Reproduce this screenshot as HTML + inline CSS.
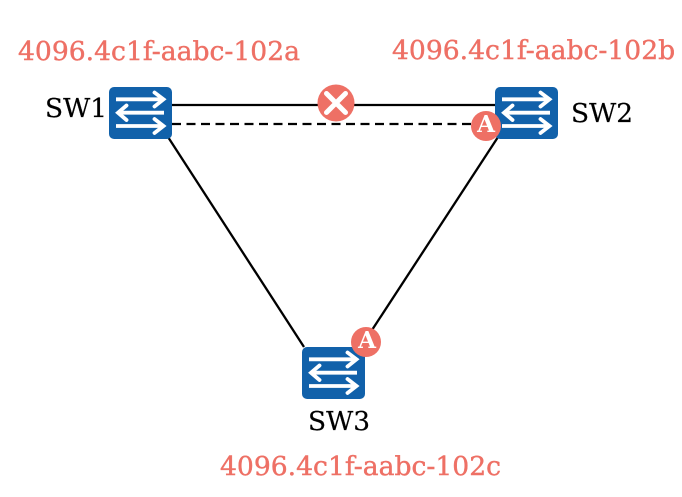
<!DOCTYPE html>
<html>
<head>
<meta charset="utf-8">
<style>
html,body{margin:0;padding:0;background:#fff;width:682px;height:497px;overflow:hidden}
svg{display:block;position:absolute;left:0;top:0}
div{position:absolute;font-family:"DejaVu Serif",serif;line-height:30px;height:30px;white-space:nowrap}
.t{font-size:26.6px;color:#ee7065;-webkit-text-stroke:0.4px #ee7065}
.l{font-size:26.4px;color:#000;-webkit-text-stroke:0.2px #000}
.a{font-size:23px;font-weight:bold;color:#fff;width:30px;text-align:center}
</style>
</head>
<body>
<svg width="682" height="497" viewBox="0 0 682 497" xmlns="http://www.w3.org/2000/svg">
<defs>
<g id="sw">
<rect x="0" y="0" width="63" height="52" rx="5" fill="#1161aa"/>
<g fill="none" stroke="#fff" stroke-width="3.800">
<path d="M7 12.300H54"/>
<path d="M45.500 5.500L54.500 12.300L45.500 19.500" stroke-linecap="round"/>
<path d="M55 25.700H10"/>
<path d="M17.500 18.500L9 25.700L17.500 33" stroke-linecap="round"/>
<path d="M7 39H54"/>
<path d="M45.500 32L54.500 39L45.500 46" stroke-linecap="round"/>
</g>
</g>
</defs>
<g stroke="#000" stroke-width="2.300" fill="none">
<path d="M172 105H495"/>
<path d="M172 124H476" stroke-dasharray="9 5.500"/>
<path d="M168 137L304 347"/>
<path d="M500 134L372 330"/>
</g>
<use href="#sw" x="109" y="87"/>
<use href="#sw" x="495" y="87"/>
<use href="#sw" x="302" y="347"/>
<circle cx="336" cy="103" r="18.500" fill="#ee7065"/>
<path d="M326.500 93.500L345.500 112.500M345.500 93.500L326.500 112.500" stroke="#fff" stroke-width="5" stroke-linecap="round"/>
<circle cx="486" cy="126" r="15" fill="#ee7065"/>
<circle cx="366" cy="342" r="15" fill="#ee7065"/>
</svg>
<div class="a" style="left:471px;top:110px">A</div>
<div class="a" style="left:352px;top:326px">A</div>
<div class="t" style="left:18px;top:37px">4096.4c1f-aabc-102a</div>
<div class="t" style="left:392px;top:36px">4096.4c1f-aabc-102b</div>
<div class="t" style="left:220px;top:452px">4096.4c1f-aabc-102c</div>
<div class="l" style="left:45px;top:94px">SW1</div>
<div class="l" style="left:571px;top:99px">SW2</div>
<div class="l" style="left:308px;top:407px">SW3</div>
</body>
</html>
